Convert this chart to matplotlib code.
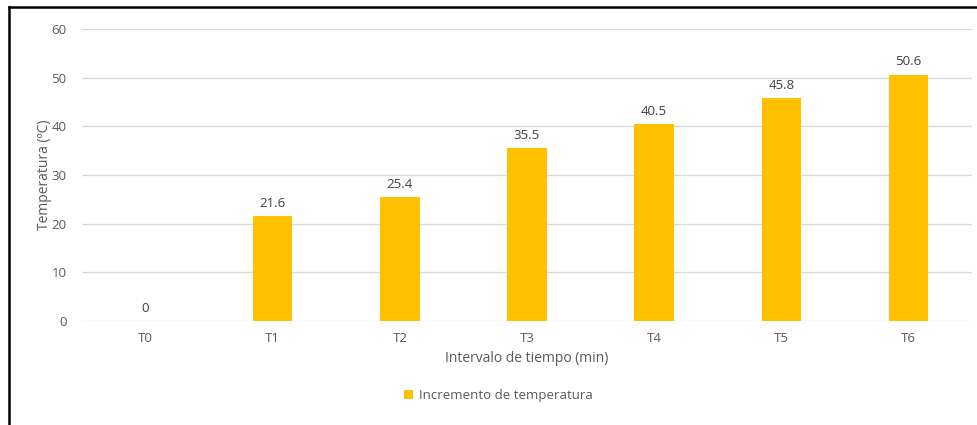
import numpy as np
import matplotlib
matplotlib.use("Agg")
import matplotlib.pyplot as plt
from matplotlib.lines import Line2D

plt.rcParams["font.family"] = ["Open Sans", "DejaVu Sans"]

intervalos = ["T0", "T1", "T2", "T3", "T4", "T5", "T6"]
incremento = [0, 21.6, 25.4, 35.5, 40.5, 45.8, 50.6]

GRIS = "#595959"
AMARILLO = "#FFC000"

fig = plt.figure(figsize=(9.77, 4.25), dpi=100)
ax = fig.add_axes([0.0839, 0.2447, 0.9110, 0.6871])

x = np.arange(len(intervalos))
barras = ax.bar(x, incremento, 0.31, color=AMARILLO, zorder=3,
                label="Incremento de temperatura")
for xi, v in zip(x, incremento):
    ax.text(xi, v + 1.3, f"{v:g}", ha="center", va="bottom",
            fontsize=9.5, color="#404040")

ax.set_xlim(-0.5, len(intervalos) - 0.5)
ax.set_ylim(0, 60)
ax.set_yticks(range(0, 61, 10))
ax.set_xticks(x)
ax.set_xticklabels(intervalos)
ax.tick_params(axis="both", length=0, labelsize=9.5, colors=GRIS)
ax.tick_params(axis="y", pad=11)
ax.tick_params(axis="x", pad=8)
ax.grid(axis="y", color="#D9D9D9", lw=1, zorder=0)
for s in ax.spines.values():
    s.set_visible(False)

ax.set_xlabel("Intervalo de tiempo (min)", fontsize=10, color=GRIS, labelpad=4)
ax.set_ylabel("Temperatura (ºC)", fontsize=10, color=GRIS, labelpad=0)

fig.legend(handles=[barras], loc="center", bbox_to_anchor=(0.51, 0.07),
           frameon=False, fontsize=9.5, labelcolor=GRIS,
           handlelength=0.7, handleheight=0.7, handletextpad=0.4)

# marco del recorte: bordes izquierdo y superior
fig.add_artist(Line2D([0.009, 0.009], [0, 0.983], color="black", lw=1.8,
                      transform=fig.transFigure))
fig.add_artist(Line2D([0.009, 1.0], [0.983, 0.983], color="black", lw=1.8,
                      transform=fig.transFigure))

fig.savefig("out.png", dpi=100)
